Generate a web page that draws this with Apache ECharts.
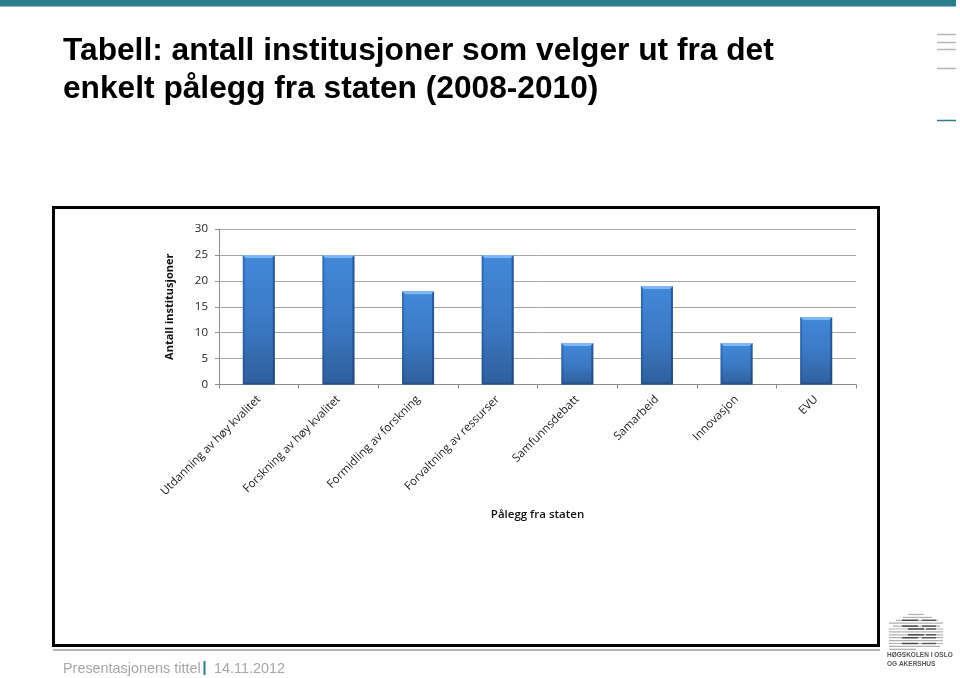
<!DOCTYPE html>
<html><head><meta charset="utf-8">
<style>html,body{margin:0;padding:0;background:#fff}#c{width:960px;height:678px}</style>
<script src="https://cdn.jsdelivr.net/npm/echarts@6/dist/echarts.min.js"></script>
</head><body><div id="c"></div>
<script>
const categories = ["Utdanning av høy kvalitet","Forskning av høy kvalitet","Formidling av forskning","Forvaltning av ressurser","Samfunnsdebatt","Samarbeid","Innovasjon","EVU"];
const values = [25,25,18,25,8,19,8,13];
const titleLines = "Tabell: antall institusjoner som velger ut fra det\nenkelt pålegg fra staten (2008-2010)";
const yAxisName = "Antall institusjoner";
const xAxisName = "Pålegg fra staten";
const footerLeft = "Presentasjonens tittel";
const footerDate = "14.11.2012";
const logoText = "HØGSKOLEN I OSLO\nOG AKERSHUS";
const logoRows = [[908,924,0],[903,932,0],[896,938,1],[889,943,0],[893,940,1],[889,943,1],[889,943,0],[889,943,1],[889,943,1],[889,943,0],[889,943,1],[889,940,0],[889,916,0]];
const chartFont = "Open Sans";

const chart = echarts.init(document.getElementById('c'), null, {renderer:'canvas'});
const lineEl = (x1,y1,x2,y2,color,w) => ({type:'line',silent:true,shape:{x1,y1,x2,y2},style:{stroke:color,lineWidth:w}});
const graphics = [
  {type:'rect',silent:true,shape:{x:0,y:0,width:956,height:6.5},style:{fill:'#2b7c8e'}},
  lineEl(937,34.5,956,34.5,'#b4b4b4',1.5),
  lineEl(937,42.5,956,42.5,'#b4b4b4',1.5),
  lineEl(937,49.5,956,49.5,'#b4b4b4',1.5),
  lineEl(937,68.5,956,68.5,'#b4b4b4',1.5),
  lineEl(937,120.5,956,120.5,'#2b7c8e',1.5),
  {type:'rect',silent:true,z:-1,shape:{x:53.5,y:207.5,width:825,height:438},style:{fill:'#fff',stroke:'#000',lineWidth:3}},
  lineEl(53,650,880,650,'#9a9a9a',1.5),
  {type:'text',silent:true,style:{x:63,y:33,text:titleLines,fill:'#000',font:'bold 31.7px "Liberation Sans"',lineHeight:37.5}},
  {type:'text',silent:true,style:{x:63,y:662,text:footerLeft,fill:'#a6a6a6',font:'14.4px "Liberation Sans"'}},
  lineEl(204.5,661,204.5,675,'#2b7c8e',2),
  {type:'text',silent:true,style:{x:214,y:662,text:footerDate,fill:'#a6a6a6',font:'14.4px "Liberation Sans"'}},
  {type:'text',silent:true,style:{x:887,y:651,text:logoText,fill:'#555',font:'bold 6.5px "Liberation Sans"',lineHeight:8.5}}
];
logoRows.forEach((r,i)=>{
  const y=614.5+i*2.9;
  graphics.push(lineEl(r[0],y,r[1],y,'#b0b0b0',1.2));
  if(r[2]){
    graphics.push(lineEl(902+(i%2)*6,y,918+(i%2)*6,y,'#444',1.4));
    graphics.push(lineEl(922+(i%2)*4,y,936,y,'#555',1.4));
  }
});
chart.setOption({
  animation:false,
  graphic:graphics,
  grid:{left:219,right:104,top:229,bottom:293.5,containLabel:false},
  xAxis:{type:'category',data:categories,
    name:xAxisName,nameLocation:'middle',nameGap:124,
    nameTextStyle:{fontFamily:chartFont,fontSize:11.5,fontWeight:600,color:'#111'},
    axisLine:{lineStyle:{color:'#8c8c8c',width:1}},
    axisTick:{show:true,alignWithLabel:false,length:4,lineStyle:{color:'#8c8c8c'}},
    axisLabel:{interval:0,rotate:45,fontFamily:chartFont,fontSize:11.5,color:'#222',margin:13}},
  yAxis:{type:'value',min:0,max:30,interval:5,
    name:yAxisName,nameLocation:'middle',nameGap:44,
    nameTextStyle:{fontFamily:chartFont,fontSize:11,fontWeight:700,color:'#111'},
    axisLine:{show:true,lineStyle:{color:'#8c8c8c'}},
    axisTick:{show:true,length:4,lineStyle:{color:'#8c8c8c'}},
    axisLabel:{fontFamily:chartFont,fontSize:11.5,color:'#222',margin:11},
    splitLine:{lineStyle:{color:'#a6a6a6',width:1}}},
  series:[
    {type:'bar',data:values,barWidth:32,silent:true,z:2,
      itemStyle:{color:new echarts.graphic.LinearGradient(0,0,0,1,[
        {offset:0,color:'#4288da'},{offset:0.55,color:'#3b78c2'},{offset:1,color:'#2f5f9c'}])}},
    {type:'custom',data:values,silent:true,z:3,
      renderItem:(params,api)=>{
        const top=api.coord([api.value(0),api.value(1)]);
        const base=api.coord([api.value(0),0]);
        const w=32,l=top[0]-w/2,r=top[0]+w/2,t=top[1],b=base[1],e=2;
        return {type:'group',children:[
          {type:'polygon',shape:{points:[[l,t],[l+e,t+e],[l+e,b-e],[l,b]]},style:{fill:'rgba(30,70,125,0.4)'}},
          {type:'polygon',shape:{points:[[r,t],[r-e,t+e],[r-e,b-e],[r,b]]},style:{fill:'rgba(22,55,105,0.55)'}},
          {type:'polygon',shape:{points:[[l,b],[l+e,b-e],[r-e,b-e],[r,b]]},style:{fill:'rgba(28,65,115,0.5)'}},
          {type:'polygon',shape:{points:[[l,t],[r,t],[r-3,t+3],[l+3,t+3]]},style:{fill:'#7db8f2'}}
        ]};
      }}
  ]
});
</script></body></html>
